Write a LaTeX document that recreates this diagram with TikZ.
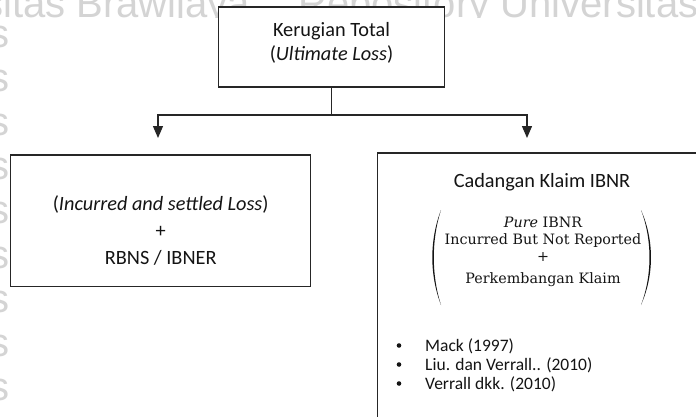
\documentclass[tikz,border=0pt]{standalone}
\usepackage{fontspec}
\newfontfamily\calib{Carlito}
\newfontfamily\wmfont{Liberation Sans}
\newfontfamily\serblock{DejaVu Serif}
\usetikzlibrary{arrows.meta}
\definecolor{linec}{HTML}{262626}
\definecolor{textc}{HTML}{141414}
\definecolor{wmc}{HTML}{D4D4D4}
\tikzset{
  box/.style={draw=linec, line width=1.3pt, fill=white, inner sep=0pt},
  lbl/.style={font=\calib\fontsize{20.3}{24}\selectfont, text=textc, inner sep=0pt, anchor=base},
  reftxt/.style={font=\calib\fontsize{17.5}{21}\selectfont, text=textc, inner sep=0pt, anchor=base west},
  sertxt/.style={font=\serblock\fontsize{14.3}{18}\selectfont, text=textc, inner sep=0pt, anchor=base},
  conn/.style={draw=linec, line width=1.3pt},
  arr/.style={conn, -{Triangle[width=10pt,length=12pt]}},
  wm/.style={font=\wmfont\fontsize{40}{48}\selectfont, text=wmc, inner sep=0pt, text depth=0pt},
  bul/.style={circle, fill=textc, inner sep=0pt, minimum size=4.6pt},
  paren/.style={fill=textc},
}
\begin{document}
\begin{tikzpicture}[x=1pt,y=-1pt]
\useasboundingbox (0,0) rectangle (696,416);
\begin{scope}
\clip (0,0) rectangle (696,416);
\fill[white] (0,0) rectangle (696,416);
% faint watermark
\node[wm, anchor=base west] (wm1) at (-17,17) {sitas Brawijaya};
\node[wm, anchor=base west] (wm2) at (298,17) {Repository Universitas};
\foreach \k in {0,...,8}{
  \node[wm, anchor=base east] (wms\k) at (10,{47+44.2*\k}) {s};
}
\fill[white] (8,18) rectangle (696,416);

% boxes
\node[box, minimum width=225.8pt, minimum height=80pt] (top) at (331.4,47) {};
\node[box, minimum width=300pt, minimum height=131.7pt] (lbox) at (160.7,220.85) {};
\node[box, minimum width=340pt, minimum height=280pt] (rbox) at (547.7,293) {};

% top box text
\node[lbl] (t1) at (331.5,36) {Kerugian Total};
\node[lbl] (t2) at (331.5,60) {(\textit{Ultimate Loss})};

% left box text
\node[lbl] (l1) at (160.7,210) {(\textit{Incurred and settled Loss})};
\node[lbl] (l2) at (160.7,237.5) {+};
\node[lbl] (l3) at (160.7,264) {RBNS / IBNER};

% right box text
\node[lbl] (r1) at (542,187) {Cadangan Klaim IBNR};
\node[sertxt] (s1) at (543,227) {\textit{Pure} IBNR};
\node[sertxt] (s2) at (543,244) {Incurred But Not Reported};
\node[sertxt] (s3) at (543,261.5) {+};
\node[sertxt] (s4) at (543,283) {Perkembangan Klaim};
\fill[paren] (441,210) .. controls (429.4,240) and (429.4,275) .. (441,305)
             .. controls (431.4,275) and (431.4,240) .. (441,210);
\fill[paren] (641,210) .. controls (654.3,240) and (654.3,275) .. (641,305)
             .. controls (652.3,275) and (652.3,240) .. (641,210);

% references
\node[bul] (b1) at (399,345.5) {};
\node[bul] (b2) at (399,364.5) {};
\node[bul] (b3) at (399,383.5) {};
\node[reftxt] (m1) at (425,351) {Mack (1997)};
\node[reftxt] (m2) at (425,370) {Liu. dan Verrall.. (2010)};
\node[reftxt] (m3) at (425,389) {Verrall dkk. (2010)};

% connectors
\coordinate (j) at (331.4,115);
\coordinate (la) at (158,138);
\coordinate (ra) at (527,138);
\draw[conn] (top.south) -- (j);
\draw[arr] (j) -| (la);
\draw[arr] (j) -| (ra);
\end{scope}
\end{tikzpicture}
\end{document}
